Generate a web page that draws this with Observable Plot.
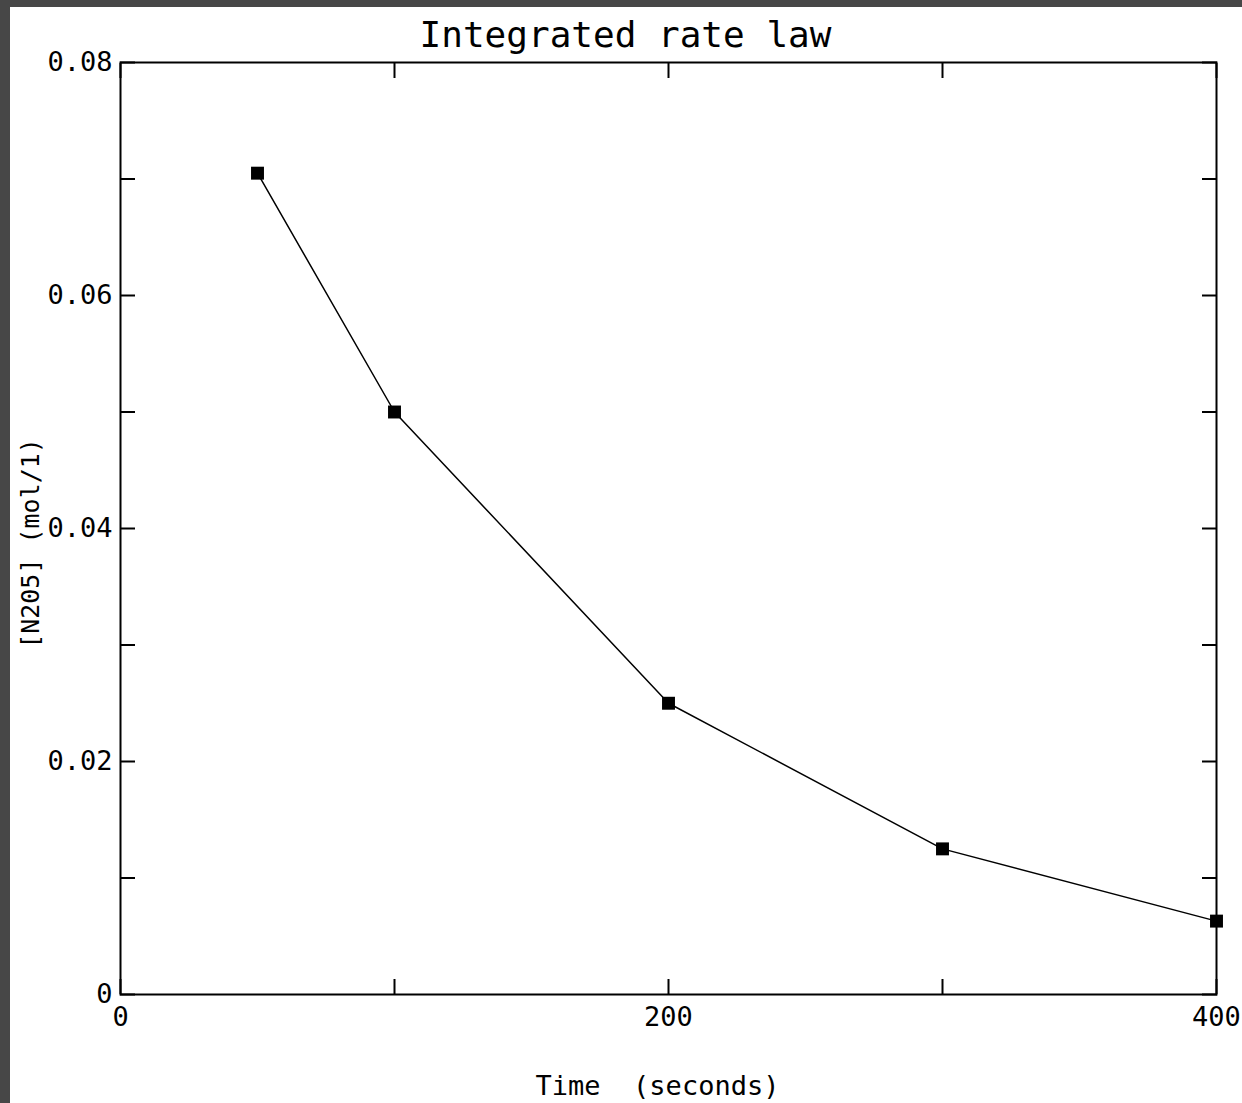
<!DOCTYPE html>
<html>
<head>
<meta charset="utf-8">
<script src="https://cdn.jsdelivr.net/npm/d3@7"></script>
<script src="https://cdn.jsdelivr.net/npm/@observablehq/plot@0.6"></script>
<style>
  html, body { margin: 0; padding: 0; background: #474747; }
  #wrap { padding: 7px 0 0 10px; width: 1232px; height: 1096px; }
  #chart { background: #fff; width: 1232px; height: 1096px; }
</style>
</head>
<body>
<div id="wrap"><div id="chart"></div></div>
<script>
const title = "Integrated rate law";
const xLabel = "Time  (seconds)";
const yLabel = "[N205] (mol/1)";
const times = [50, 100, 200, 300, 400];
const conc = [0.0705, 0.05, 0.025, 0.0125, 0.0063];
const xMajorTicks = [0, 100, 200, 300, 400];
const xLabelTicks = [0, 200, 400];
const yMajorTicks = [0, 0.01, 0.02, 0.03, 0.04, 0.05, 0.06, 0.07, 0.08];
const yLabelTicks = [0, 0.02, 0.04, 0.06, 0.08];

const data = times.map((t, i) => ({t, c: conc[i]}));
const font = "DejaVu Sans Mono, Liberation Mono, monospace";

const chart = Plot.plot({
  width: 1232,
  height: 1096,
  marginLeft: 110,
  marginRight: 26,
  marginTop: 55,
  marginBottom: 109,
  style: {fontFamily: font, fontSize: "27px", color: "#000", background: "#fff"},
  x: {domain: [0, 400]},
  y: {domain: [0, 0.08]},
  marks: [
    Plot.axisX({ticks: xMajorTicks, anchor: "bottom", tickSize: -15, tickFormat: () => "", label: null, strokeWidth: 2}),
    Plot.axisX({ticks: xMajorTicks, anchor: "top", tickSize: -15, tickFormat: () => "", label: null, strokeWidth: 2}),
    Plot.axisX({ticks: xLabelTicks, anchor: "bottom", tickSize: 0, tickPadding: 12, tickFormat: d => String(d), label: null}),
    Plot.axisY({ticks: yMajorTicks, anchor: "left", tickSize: -15, tickFormat: () => "", label: null, strokeWidth: 2}),
    Plot.axisY({ticks: yMajorTicks, anchor: "right", tickSize: -15, tickFormat: () => "", label: null, strokeWidth: 2}),
    Plot.axisY({ticks: yLabelTicks, anchor: "left", tickSize: 0, tickPadding: 8, tickFormat: d => String(d), label: null}),
    Plot.frame({stroke: "#000", strokeWidth: 2}),
    Plot.line(data, {x: "t", y: "c", stroke: "#000", strokeWidth: 1.5}),
    Plot.dot(data, {x: "t", y: "c", symbol: "square", r: 7.3, fill: "#000", stroke: "none"}),
    Plot.text([title], {text: d => d, frameAnchor: "top", textAnchor: "middle", dx: -43, dy: -27, lineAnchor: "middle", fontSize: 36, fill: "#000"}),
    Plot.text([xLabel], {text: d => d, frameAnchor: "bottom", textAnchor: "middle", dx: -11, dy: 92, lineAnchor: "middle", fontSize: 27, fill: "#000"}),
    Plot.text([yLabel], {text: d => d, frameAnchor: "left", textAnchor: "middle", dx: -90, dy: 15, rotate: -90, lineAnchor: "middle", fontSize: 25, fill: "#000"})
  ]
});
document.getElementById("chart").appendChild(chart);
</script>
</body>
</html>
